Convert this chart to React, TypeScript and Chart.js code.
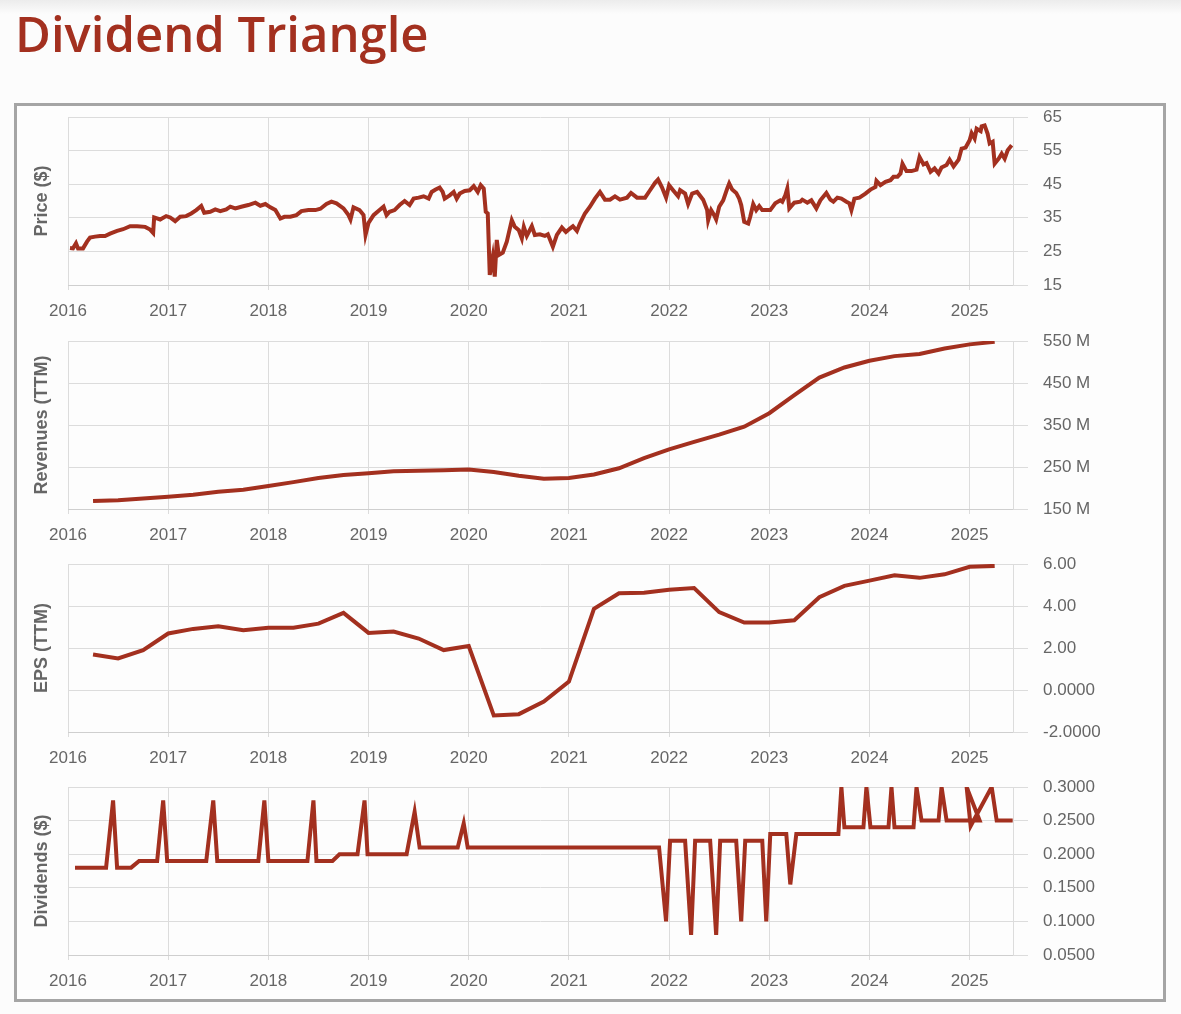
import React, { useEffect, useRef } from "react";
import { Chart, registerables } from "chart.js";

Chart.register(...registerables);

// ---------- data ----------
const LINE_COLOR = "#a3301f";
const X_MIN = 2016;
const X_MAX = 2025.433;

const priceDates = [
  2016.02, 2016.05, 2016.08, 2016.1, 2016.15, 2016.19, 2016.22, 2016.27, 2016.32, 2016.37,
  2016.42, 2016.49, 2016.55, 2016.62, 2016.69, 2016.77, 2016.82, 2016.85, 2016.86, 2016.92,
  2016.98, 2017.02, 2017.07, 2017.12, 2017.18, 2017.23, 2017.28, 2017.33, 2017.36, 2017.42,
  2017.47, 2017.52, 2017.58, 2017.62, 2017.67, 2017.73, 2017.8, 2017.87, 2017.92, 2017.97,
  2018.02, 2018.07, 2018.12, 2018.16, 2018.22, 2018.28, 2018.33, 2018.4, 2018.47, 2018.52,
  2018.58, 2018.63, 2018.68, 2018.75, 2018.8, 2018.82, 2018.85, 2018.91, 2018.95, 2018.97,
  2019.0, 2019.05, 2019.11, 2019.15, 2019.18, 2019.21, 2019.26, 2019.31, 2019.36, 2019.41,
  2019.45, 2019.5, 2019.55, 2019.6, 2019.63, 2019.67, 2019.71, 2019.74, 2019.76, 2019.81,
  2019.85, 2019.88, 2019.91, 2019.96, 2020.01, 2020.05, 2020.09, 2020.12, 2020.15, 2020.17,
  2020.19, 2020.21, 2020.24, 2020.26, 2020.28, 2020.3, 2020.34, 2020.38, 2020.43, 2020.46,
  2020.5, 2020.53, 2020.55, 2020.58, 2020.63, 2020.66, 2020.71, 2020.76, 2020.79, 2020.84,
  2020.88, 2020.93, 2020.97, 2021.01, 2021.04, 2021.08, 2021.11, 2021.16, 2021.21, 2021.26,
  2021.31, 2021.36, 2021.41, 2021.46, 2021.51, 2021.58, 2021.62, 2021.68, 2021.76, 2021.81,
  2021.86, 2021.89, 2021.93, 2021.97, 2022.0, 2022.04, 2022.09, 2022.11, 2022.16, 2022.19,
  2022.23, 2022.28, 2022.34, 2022.38, 2022.39, 2022.42, 2022.45, 2022.47, 2022.5, 2022.54,
  2022.58, 2022.6, 2022.63, 2022.67, 2022.7, 2022.72, 2022.75, 2022.79, 2022.81, 2022.84,
  2022.87, 2022.9, 2022.93, 2022.97, 2023.01, 2023.06, 2023.11, 2023.13, 2023.16, 2023.18,
  2023.2, 2023.25, 2023.31, 2023.33, 2023.38, 2023.42, 2023.47, 2023.51, 2023.57, 2023.61,
  2023.64, 2023.68, 2023.72, 2023.77, 2023.8, 2023.82, 2023.85, 2023.9, 2023.96, 2024.01,
  2024.06, 2024.07, 2024.11, 2024.16, 2024.21, 2024.24, 2024.28, 2024.31, 2024.33, 2024.37,
  2024.42, 2024.47, 2024.5, 2024.54, 2024.57, 2024.61, 2024.65, 2024.69, 2024.72, 2024.77,
  2024.8, 2024.84, 2024.89, 2024.92, 2024.96, 2025.0, 2025.02, 2025.05, 2025.07, 2025.11,
  2025.12, 2025.15, 2025.18, 2025.2, 2025.23, 2025.25, 2025.29, 2025.32, 2025.35, 2025.38,
  2025.42,
];
const priceValues = [
  26.0, 25.9, 27.4, 25.9, 25.9, 27.9, 29.1, 29.4, 29.6, 29.6,
  30.3, 31.1, 31.6, 32.5, 32.5, 32.3, 31.5, 30.5, 35.1, 34.5,
  35.5, 35.1, 34.0, 35.3, 35.5, 36.3, 37.3, 38.5, 36.5, 36.8,
  37.5, 37.0, 37.5, 38.3, 37.8, 38.3, 38.8, 39.5, 38.6, 39.1,
  38.1, 37.3, 34.8, 35.3, 35.3, 35.8, 37.0, 37.3, 37.3, 37.7,
  39.1, 39.8, 39.3, 37.8, 35.8, 34.5, 38.1, 37.3, 35.8, 29.9,
  33.5, 35.8, 37.3, 38.3, 35.8, 36.8, 37.3, 38.8, 40.0, 38.8,
  40.7, 41.0, 41.4, 40.7, 42.7, 43.4, 44.0, 42.7, 40.7, 41.7,
  42.7, 40.7, 42.2, 43.0, 43.2, 44.4, 42.7, 44.7, 43.7, 36.8,
  36.3, 18.0, 23.4, 17.5, 28.4, 23.9, 24.6, 27.9, 34.3, 32.3,
  31.3, 28.9, 32.3, 29.6, 32.5, 29.9, 30.1, 29.6, 30.1, 26.4,
  29.9, 32.1, 30.8, 31.8, 32.5, 31.1, 33.3, 36.3, 38.3, 40.7,
  42.7, 40.4, 40.4, 41.4, 40.4, 41.0, 42.4, 41.0, 41.0, 43.2,
  45.4, 46.4, 44.0, 41.0, 44.7, 43.2, 41.4, 43.2, 42.2, 39.1,
  42.2, 42.7, 40.4, 37.3, 34.3, 37.3, 35.8, 34.5, 38.3, 40.2,
  43.7, 45.2, 43.4, 42.4, 40.7, 38.8, 33.8, 33.3, 35.3, 39.1,
  37.3, 38.5, 37.3, 37.3, 37.3, 39.3, 40.2, 39.8, 41.7, 43.7,
  37.8, 39.5, 39.8, 40.4, 39.5, 40.2, 37.8, 40.2, 42.4, 40.4,
  39.8, 41.0, 40.7, 39.8, 39.3, 37.3, 40.7, 41.0, 42.2, 43.4,
  44.2, 46.0, 44.7, 45.7, 46.2, 47.2, 47.2, 48.2, 51.1, 48.9,
  48.9, 49.3, 53.1, 50.9, 51.3, 48.7, 49.7, 48.2, 50.0, 50.7,
  52.3, 50.3, 52.3, 55.6, 55.9, 58.1, 60.2, 58.6, 61.5, 60.8,
  62.2, 62.5, 60.0, 57.1, 57.6, 51.1, 52.6, 54.1, 52.6, 55.1,
  56.6,
];

const quarterDates = [
  2016.25, 2016.5, 2016.75, 2017.0, 2017.25, 2017.5, 2017.75, 2018.0, 2018.25, 2018.5,
  2018.75, 2019.0, 2019.25, 2019.5, 2019.75, 2020.0, 2020.25, 2020.5, 2020.75, 2021.0,
  2021.25, 2021.5, 2021.75, 2022.0, 2022.25, 2022.5, 2022.75, 2023.0, 2023.25, 2023.5,
  2023.75, 2024.0, 2024.25, 2024.5, 2024.75, 2025.0, 2025.25,
];
// revenues in millions
const revenueValues = [
  169, 171, 175, 179, 184, 191, 196, 205, 214, 224,
  231, 235, 240, 241, 242, 244, 238, 229, 222, 224,
  232, 247, 271, 292, 310, 327, 346, 378, 421, 463,
  487, 503, 514, 519, 532, 542, 548,
];
const epsValues = [
  1.69, 1.5, 1.9, 2.69, 2.91, 3.03, 2.85, 2.96, 2.97, 3.16,
  3.67, 2.72, 2.78, 2.45, 1.9, 2.09, -1.21, -1.15, -0.55, 0.4,
  3.87, 4.61, 4.63, 4.77, 4.86, 3.71, 3.21, 3.22, 3.32, 4.42,
  4.96, 5.21, 5.46, 5.34, 5.51, 5.87, 5.91,
];

const dividendDates = [
  2016.07, 2016.38, 2016.45, 2016.49, 2016.63, 2016.71, 2016.89, 2016.95, 2016.99, 2017.38,
  2017.45, 2017.49, 2017.9, 2017.96, 2018.0, 2018.39, 2018.45, 2018.48, 2018.64, 2018.71,
  2018.89, 2018.96, 2018.99, 2019.38, 2019.46, 2019.51, 2019.89, 2019.95, 2019.99, 2021.9,
  2021.97, 2022.01, 2022.16, 2022.22, 2022.26, 2022.41, 2022.47, 2022.51, 2022.67, 2022.72,
  2022.76, 2022.93, 2022.97, 2023.01, 2023.17, 2023.21, 2023.27, 2023.69, 2023.72, 2023.75,
  2023.94, 2023.97, 2024.01, 2024.19, 2024.22, 2024.25, 2024.44, 2024.47, 2024.52, 2024.69,
  2024.72, 2024.77, 2025.1, 2024.97, 2025.01, 2025.22, 2025.27, 2025.43,
];
const dividendValues = [
  0.18, 0.18, 0.28, 0.18, 0.18, 0.19, 0.19, 0.28, 0.19, 0.19,
  0.28, 0.19, 0.19, 0.28, 0.19, 0.19, 0.28, 0.19, 0.19, 0.2,
  0.2, 0.28, 0.2, 0.2, 0.263, 0.21, 0.21, 0.246, 0.21, 0.21,
  0.1, 0.22, 0.22, 0.08, 0.22, 0.22, 0.08, 0.22, 0.22, 0.1,
  0.22, 0.22, 0.1, 0.23, 0.23, 0.155, 0.23, 0.23, 0.3, 0.24,
  0.24, 0.3, 0.24, 0.24, 0.3, 0.24, 0.24, 0.3, 0.25, 0.25,
  0.3, 0.25, 0.25, 0.3, 0.242, 0.3, 0.25, 0.25,
];

const epsTickValues = [-2, 0, 2, 4, 6];
const epsTickLabels = ["-2.0000", "0.0000", "2.00", "4.00", "6.00"];

// ---------- chart panels ----------
type Panel = {
  title: string;
  dates: number[];
  values: number[];
  min: number;
  max: number;
  step: number;
  label: (v: number) => string;
  plotTop: number;
  width: number;
};

const FONT = "'Liberation Sans', Arial, Helvetica, sans-serif";
const GRID = "#dcdcdc";

const panels: Panel[] = [
  { title: "Price ($)", dates: priceDates, values: priceValues, min: 15, max: 65, step: 10, label: (v) => String(v), plotTop: 117, width: 4 },
  { title: "Revenues (TTM)", dates: quarterDates, values: revenueValues, min: 150, max: 550, step: 100, label: (v) => `${v} M`, plotTop: 341, width: 4 },
  {
    title: "EPS (TTM)", dates: quarterDates, values: epsValues, min: -2, max: 6, step: 2,
    label: (v) => { const i = epsTickValues.indexOf(Math.round(v)); return i >= 0 ? epsTickLabels[i] : String(v); },
    plotTop: 564, width: 4,
  },
  { title: "Dividends ($)", dates: dividendDates, values: dividendValues, min: 0.05, max: 0.3, step: 0.05, label: (v) => v.toFixed(4), plotTop: 787, width: 4 },
];

const CANVAS_LEFT = 17;
const CANVAS_W = 1146;
const PAD_TOP = 12;
const PLOT_H = 168;
const XAXIS_H = 40;
const CANVAS_H = PAD_TOP + PLOT_H + XAXIS_H;

function PanelChart({ p }: { p: Panel }) {
  const ref = useRef<HTMLCanvasElement | null>(null);
  useEffect(() => {
    if (!ref.current) return;
    const chart = new Chart(ref.current, {
      type: "line",
      data: {
        datasets: [
          {
            data: p.dates.map((d, i) => ({ x: d, y: p.values[i] })),
            borderColor: LINE_COLOR,
            backgroundColor: LINE_COLOR,
            borderWidth: p.width,
            pointRadius: 0,
            pointHoverRadius: 0,
            tension: 0,
            fill: false,
            yAxisID: "y",
          },
        ],
      },
      options: {
        animation: false,
        responsive: false,
        devicePixelRatio: 1,
        layout: { padding: { top: PAD_TOP, left: 0, right: 0, bottom: 0 } },
        plugins: { legend: { display: false }, tooltip: { enabled: false } },
        scales: {
          x: {
            type: "linear",
            position: "bottom",
            min: X_MIN,
            max: X_MAX,
            grid: { color: GRID, tickLength: 5, lineWidth: 1 },
            border: { color: "#cfcfcf", width: 1 },
            ticks: {
              stepSize: 1,
              includeBounds: false,
              autoSkip: false,
              maxRotation: 0,
              padding: 11,
              color: "#666",
              font: { family: FONT, size: 17 },
              callback: (v: any) => String(Math.round(Number(v))),
            },
            afterFit: (s: any) => { s.height = XAXIS_H; s.paddingLeft = 0; s.paddingRight = 0; },
          },
          y: {
            type: "linear",
            position: "right",
            min: p.min,
            max: p.max,
            grid: { color: GRID, tickLength: 15, lineWidth: 1 },
            border: { color: GRID, width: 1 },
            ticks: {
              stepSize: p.step,
              padding: 15,
              color: "#666",
              font: { family: FONT, size: 17 },
              callback: (v: any) => p.label(Number(v)),
            },
            afterFit: (s: any) => { s.width = 150; s.paddingTop = 0; s.paddingBottom = 0; },
          },
          yl: {
            type: "linear",
            position: "left",
            display: true,
            grid: { display: false },
            border: { display: false },
            ticks: { display: false },
            title: {
              display: true,
              text: p.title,
              color: "#666",
              font: { family: FONT, size: 18, weight: "bold" },
              padding: { top: 14, bottom: 0 },
            },
            afterFit: (s: any) => { s.width = 51; s.paddingTop = 0; s.paddingBottom = 0; },
          },
        },
      } as any,
    });
    return () => chart.destroy();
  }, [p]);
  return (
    <canvas
      ref={ref}
      width={CANVAS_W}
      height={CANVAS_H}
      style={{ position: "absolute", left: CANVAS_LEFT, top: p.plotTop - PAD_TOP, width: CANVAS_W, height: CANVAS_H }}
    />
  );
}

export default function App() {
  return (
    <div style={{ position: "absolute", left: 0, top: 0, width: 1181, height: 1014, background: "#fcfcfc", overflow: "hidden" }}>
      <div style={{ position: "absolute", left: 0, top: 0, width: 1181, height: 14, background: "linear-gradient(#ececec, #fcfcfc)" }} />
      <div
        style={{
          position: "absolute", left: 15, top: 9, margin: 0,
          fontFamily: "'Open Sans', 'Noto Sans', sans-serif", fontWeight: 600, fontSize: 49, lineHeight: "49px",
          color: "#a3301f", whiteSpace: "nowrap",
        }}
      >
        Dividend Triangle
      </div>
      <div style={{ position: "absolute", left: 14, top: 103, width: 1152, height: 899, border: "3px solid #a5a5a5", boxSizing: "border-box", background: "#fdfdfd" }} />
      {panels.map((p) => (
        <PanelChart key={p.title} p={p} />
      ))}
    </div>
  );
}
